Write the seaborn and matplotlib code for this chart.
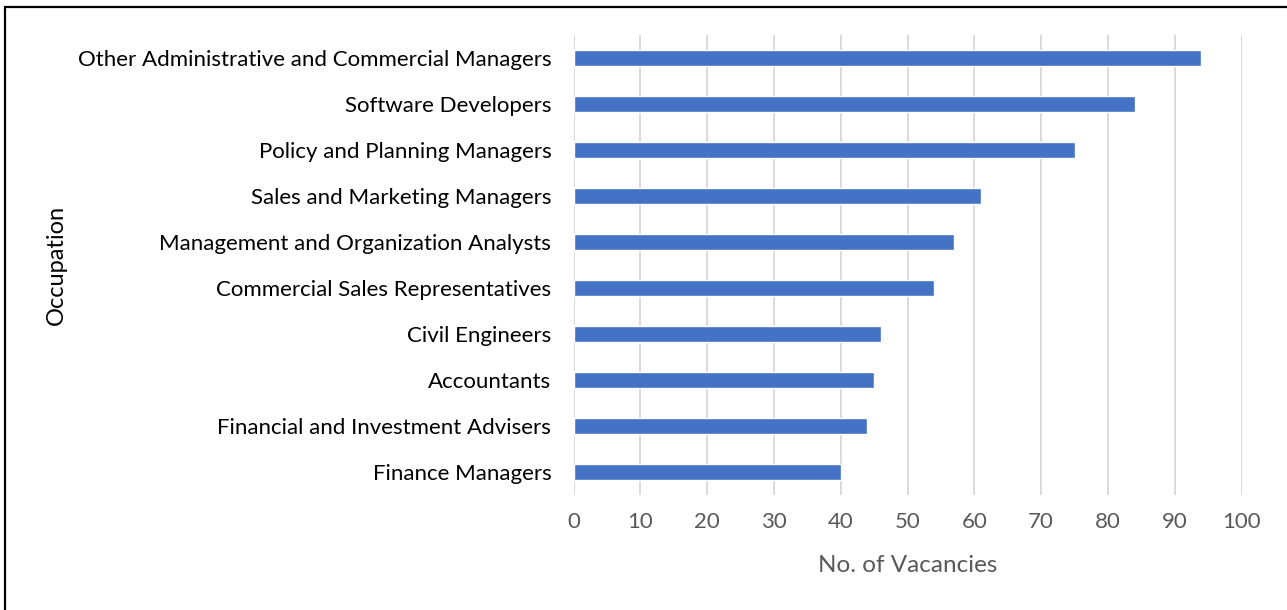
import matplotlib
matplotlib.use("Agg")
import matplotlib.pyplot as plt
import matplotlib.patches as mpatches
import pandas as pd
import seaborn as sns

# Occupations listed top to bottom, with the number of open vacancies
occupations = [
    "Other Administrative and Commercial Managers",
    "Software Developers",
    "Policy and Planning Managers",
    "Sales and Marketing Managers",
    "Management and Organization Analysts",
    "Commercial Sales Representatives",
    "Civil Engineers",
    "Accountants",
    "Financial and Investment Advisers",
    "Finance Managers",
]
vacancies = [94, 84, 75, 61, 57, 54, 46, 45, 44, 40]
x_ticks = [0, 10, 20, 30, 40, 50, 60, 70, 80, 90, 100]

df = pd.DataFrame({"Occupation": occupations, "Vacancies": vacancies})

sns.set_theme(style="white")
plt.rcParams["font.family"] = ["Lato", "DejaVu Sans"]

W, H = 1287, 610
fig = plt.figure(figsize=(W / 100, H / 100), dpi=100)
ax = fig.add_axes([573.5 / W, 1 - 495 / H, 668 / W, 460 / H])

sns.barplot(
    data=df, x="Vacancies", y="Occupation", orient="h",
    color="#4472C4", saturation=1, width=0.36, ax=ax, zorder=3,
)

ax.set_xlim(0, 100)
ax.set_xticks(x_ticks)
ax.set_xticklabels([str(t) for t in x_ticks])
ax.xaxis.grid(True, color="#D9D9D9", linewidth=1.4, zorder=0)
ax.yaxis.grid(False)
for s in ax.spines.values():
    s.set_visible(False)

ax.tick_params(axis="y", length=0, pad=16, labelsize=16, labelcolor="#000000")
ax.tick_params(axis="x", length=0, pad=12, labelsize=16, labelcolor="#595959")

ax.set_xlabel("No. of Vacancies", fontsize=17.5, color="#595959", va="center")
ax.xaxis.set_label_coords(0.5, -70 / 460)
ax.set_ylabel("Occupation", fontsize=17, color="#000000", va="center")
ax.yaxis.set_label_coords((56 - 573.5) / 668, 0.5)

# Frame around the chart area
frame = mpatches.Rectangle(
    (5 / W, -0.2), 1.2, 1.2 - 7 / H,
    transform=fig.transFigure, fill=False, edgecolor="black", linewidth=1.6,
)
fig.patches.append(frame)

fig.savefig("out.png", dpi=100, facecolor="white")
